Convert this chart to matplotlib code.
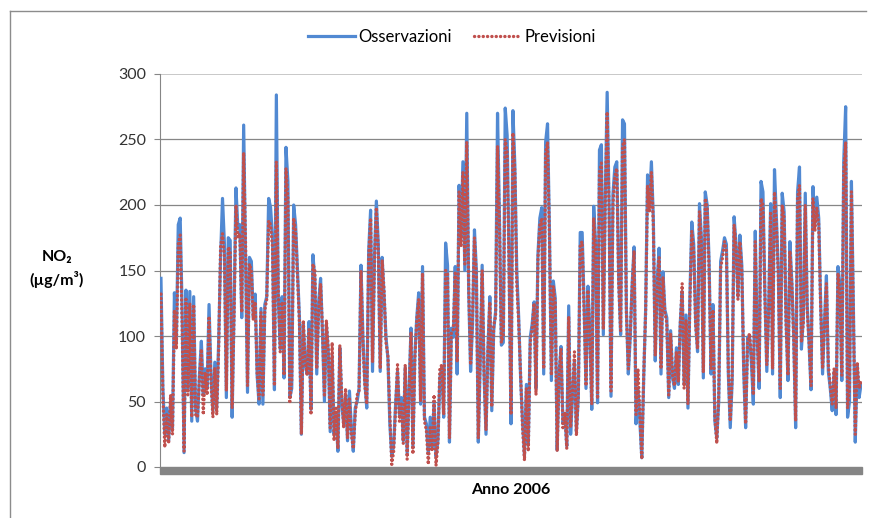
import numpy as np
import pandas as pd
import matplotlib
matplotlib.use('Agg')
import matplotlib.pyplot as plt
from matplotlib.lines import Line2D
from matplotlib.patches import Rectangle

plt.rcParams['font.family'] = ['Lato', 'DejaVu Sans']

#------------------------------------------------------------------------------
# DATA (daily NO2, 2006)

giorni = pd.date_range('2006-01-01', '2006-12-31', freq='D')

osservazioni = [
    144, 60, 25, 45, 20, 50, 30, 133, 95, 185,
    190, 120, 11, 135, 60, 134, 35, 130, 45, 35,
    70, 96, 55, 75, 60, 124, 70, 43, 80, 45,
    96, 160, 205, 170, 53, 175, 173, 38, 120, 213,
    182, 185, 114, 261, 160, 57, 160, 157, 114, 132,
    70, 48, 121, 48, 124, 130, 205, 198, 175, 59,
    284, 129, 90, 130, 68, 244, 218, 53, 60, 200,
    185, 149, 114, 25, 109, 78, 71, 111, 44, 162,
    144, 71, 126, 144, 101, 50, 109, 88, 27, 85,
    25, 40, 12, 91, 48, 33, 55, 20, 58, 30,
    12, 45, 50, 60, 154, 100, 65, 45, 165, 196,
    73, 160, 203, 170, 73, 160, 131, 99, 83, 33,
    8, 17, 48, 73, 40, 53, 20, 76, 10, 60,
    106, 15, 85, 114, 133, 48, 153, 38, 33, 10,
    38, 15, 50, 8, 20, 68, 76, 38, 171, 154,
    19, 106, 99, 153, 71, 215, 175, 233, 150, 270,
    134, 73, 109, 181, 150, 19, 80, 154, 70, 25,
    90, 130, 43, 104, 119, 270, 190, 93, 95, 274,
    253, 157, 33, 272, 230, 150, 114, 68, 35, 9,
    63, 17, 99, 109, 126, 60, 162, 190, 198, 71,
    248, 262, 180, 66, 142, 129, 13, 71, 92, 33,
    40, 16, 123, 25, 55, 81, 27, 53, 179, 179,
    124, 60, 138, 104, 44, 199, 170, 49, 242, 246,
    101, 205, 286, 200, 54, 208, 229, 233, 144, 101,
    265, 262, 120, 71, 99, 140, 168, 33, 60, 35,
    7, 68, 120, 223, 200, 233, 190, 81, 142, 167,
    71, 149, 120, 114, 53, 104, 68, 60, 91, 63,
    110, 134, 63, 116, 45, 129, 187, 170, 111, 88,
    201, 175, 68, 210, 200, 157, 71, 124, 35, 22,
    50, 157, 165, 175, 170, 71, 30, 66, 191, 170,
    130, 177, 154, 73, 30, 99, 100, 80, 48, 180,
    100, 60, 218, 210, 134, 73, 124, 201, 71, 227,
    190, 149, 53, 209, 195, 114, 66, 172, 142, 100,
    30, 210, 229, 90, 114, 209, 124, 93, 59, 214,
    185, 206, 190, 126, 71, 111, 146, 73, 60, 43,
    73, 40, 153, 139, 66, 233, 275, 38, 50, 218,
    124, 19, 78, 53, 63]

previsioni = [
    132, 55, 15, 40, 18, 55, 25, 120, 90, 170,
    177, 110, 12, 128, 55, 125, 38, 124, 40, 38,
    68, 90, 40, 72, 55, 115, 65, 38, 76, 40,
    90, 168, 178, 160, 58, 168, 165, 45, 115, 200,
    175, 178, 118, 240, 170, 62, 155, 150, 112, 126,
    72, 52, 118, 55, 120, 128, 188, 185, 168, 62,
    233, 135, 88, 126, 70, 228, 205, 50, 66, 190,
    180, 145, 110, 25, 112, 80, 70, 105, 40, 155,
    150, 75, 120, 140, 104, 55, 112, 90, 30, 95,
    20, 45, 14, 93, 55, 30, 60, 22, 52, 25,
    14, 40, 55, 58, 150, 95, 62, 48, 160, 190,
    80, 155, 198, 165, 75, 158, 135, 95, 85, 40,
    2, 12, 45, 78, 35, 48, 18, 78, 6, 55,
    103, 10, 82, 112, 128, 50, 148, 35, 28, 2,
    30, 12, 55, 1, 18, 75, 78, 40, 150, 148,
    22, 103, 105, 148, 80, 210, 168, 225, 155, 248,
    138, 78, 115, 175, 145, 22, 85, 150, 72, 28,
    88, 126, 46, 108, 115, 245, 185, 95, 100, 250,
    240, 150, 40, 255, 225, 140, 110, 70, 30, 5,
    60, 12, 95, 106, 125, 55, 158, 185, 190, 75,
    240, 248, 175, 70, 138, 125, 12, 70, 90, 30,
    42, 14, 115, 30, 58, 88, 24, 55, 170, 172,
    120, 62, 135, 100, 48, 190, 168, 52, 225, 232,
    105, 200, 271, 195, 58, 200, 222, 228, 140, 104,
    245, 250, 118, 75, 102, 138, 165, 40, 75, 40,
    6, 70, 118, 215, 195, 225, 185, 85, 138, 160,
    75, 145, 118, 110, 55, 102, 70, 62, 88, 65,
    108, 140, 60, 112, 48, 125, 180, 165, 108, 90,
    195, 170, 72, 205, 198, 150, 75, 120, 38, 18,
    55, 152, 160, 172, 165, 75, 35, 70, 185, 168,
    128, 172, 150, 78, 33, 96, 102, 85, 55, 172,
    98, 65, 205, 200, 130, 78, 120, 195, 75, 210,
    185, 145, 60, 200, 190, 110, 70, 165, 140, 98,
    35, 205, 215, 95, 110, 200, 120, 95, 62, 205,
    180, 198, 185, 122, 75, 108, 140, 78, 62, 48,
    75, 45, 148, 135, 70, 225, 248, 45, 60, 210,
    120, 25, 80, 60, 65]

#------------------------------------------------------------------------------
# PLOT

W, H = 869, 518
fig = plt.figure(figsize=(W/100, H/100), dpi=100)
ax = fig.add_axes([160/W, (H-467)/H, (862-160)/W, (467-74)/H])

ax.plot(giorni, osservazioni, color='#5189D2', lw=2.3, label='Osservazioni', zorder=3)
ax.plot(giorni, previsioni, color='#C0504D', lw=2.4, ls=(0, (0.05, 1.25)),
        dash_capstyle='round', label='Previsioni', zorder=4)

# y axis
ax.set_ylim(0, 300)
ax.set_yticks(np.arange(0, 301, 50))
for v in range(50, 300, 50):
    ax.axhline(v, color='#868686', lw=0.9, zorder=1)
ax.axhline(300, color='#C4C4C4', lw=1.3, zorder=1)
ax.tick_params(axis='y', direction='out', length=4, width=0.8, color='#868686',
               labelsize=11.5, labelcolor='#333333', pad=6)

# x axis: no labels, thick grey band under the plot
ax.set_xlim(giorni[0] - pd.Timedelta(hours=12), giorni[-1] + pd.Timedelta(hours=12))
ax.set_xticks([])
for s in ['top', 'right', 'bottom']:
    ax.spines[s].set_visible(False)
ax.spines['left'].set_color('#868686')
ax.spines['left'].set_linewidth(0.8)
ax.add_patch(Rectangle((0, -7/393), 1, 7/393, transform=ax.transAxes,
                       clip_on=False, color='#858585', zorder=2))

# labels
fig.text(57/W, 1-257/H, 'NO\u2082', ha='center', va='center', fontsize=11.5, fontweight='bold')
fig.text(57/W, 1-280/H, '(\u00b5g/m\u00b3)', ha='center', va='center', fontsize=11.5, fontweight='bold')
fig.text(511/W, 1-490/H, 'Anno 2006', ha='center', va='center', fontsize=11.5, fontweight='bold')

fig.legend(loc='center', bbox_to_anchor=(452/W, 1-37/H), ncol=2, frameon=False,
           fontsize=12, handlelength=2.8, handletextpad=0.25, columnspacing=1.3)

# chart area border (top and left only visible)
fig.add_artist(Line2D([10/W, 10/W], [0, 1-11/H], transform=fig.transFigure, color='#8C8C8C', lw=1))
fig.add_artist(Line2D([10/W, 866/W], [1-11/H, 1-11/H], transform=fig.transFigure, color='#8C8C8C', lw=1))

fig.savefig('out.png', dpi=100)
